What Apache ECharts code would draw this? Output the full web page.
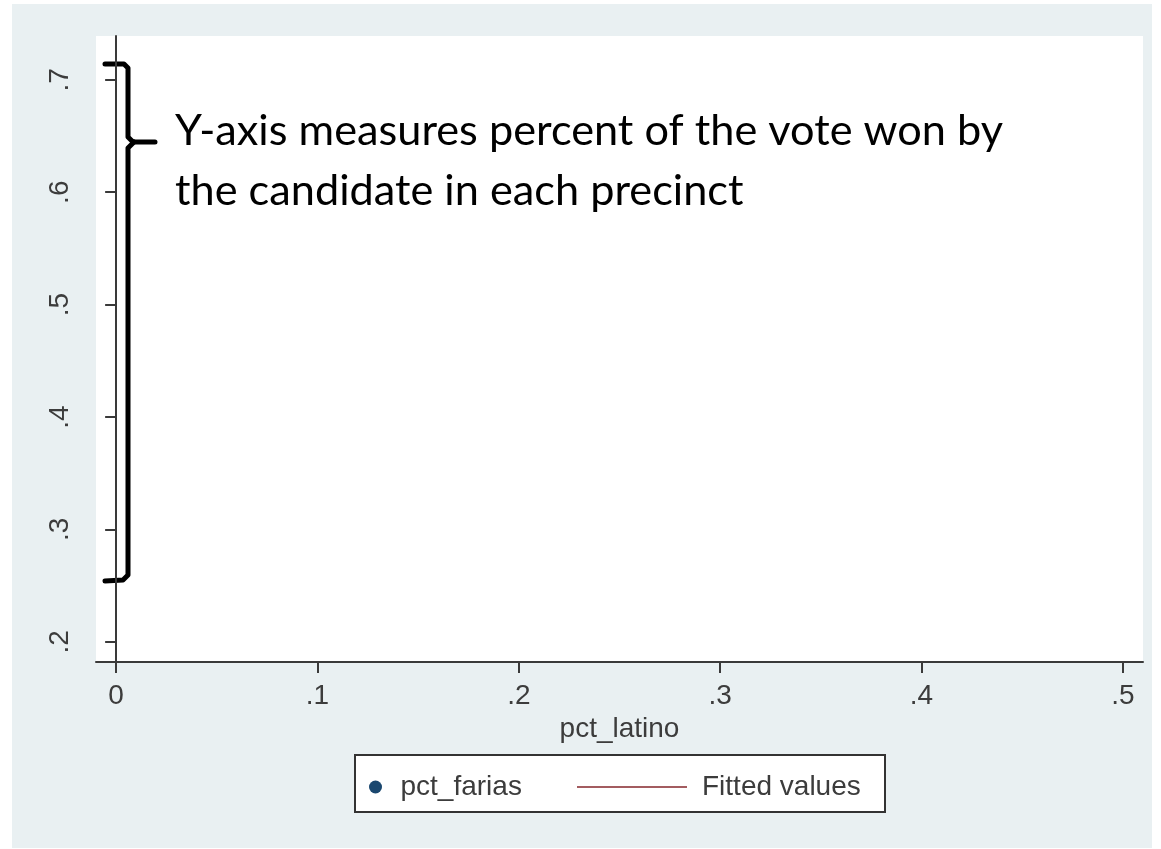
<!DOCTYPE html>
<html>
<head>
<meta charset="utf-8">
<title>pct_farias vs pct_latino</title>
<script src="https://cdn.jsdelivr.net/npm/echarts@6/dist/echarts.min.js"></script>
<style>
  html, body { margin: 0; padding: 0; background: #fff; }
  #main { width: 1161px; height: 849px; }
</style>
</head>
<body>
<div id="main"></div>
<script>
// data: the plot region shows no markers or fitted line
var pctLatino = [];
var pctFarias = [];
var fittedValues = [];

var xTicks = [0, 0.1, 0.2, 0.3, 0.4, 0.5];
var xTickLabels = ["0", ".1", ".2", ".3", ".4", ".5"];
var yTicks = [0.2, 0.3, 0.4, 0.5, 0.6, 0.7];
var yTickLabels = [".2", ".3", ".4", ".5", ".6", ".7"];

var noteLines = [
  "Y-axis measures percent of the vote won by",
  "the candidate in each precinct"
];

var axisColor = "#3a3a3a";
var textColor = "#3c3c3c";
var labelFont = "'Liberation Sans', Arial, sans-serif";
var noteFont = "Lato, 'Open Sans', sans-serif";

function pairs(xs, ys) {
  return xs.map(function (x, i) { return [x, ys[i]]; });
}

function tickText(list, labels) {
  return function (v) {
    var i = list.indexOf(v);
    return i >= 0 ? labels[i] : String(v);
  };
}

// stretch the note so it spans the same width as in the reference
var ctx = document.createElement("canvas").getContext("2d");
ctx.font = "42px " + noteFont;
var noteScale = 828 / ctx.measureText(noteLines[0]).width;

var myChart = echarts.init(document.getElementById("main"));
myChart.setOption({
  backgroundColor: "#ffffff",
  animation: false,
  grid: {
    left: 96,
    right: 18,
    top: 36,
    bottom: 187,
    show: true,
    backgroundColor: "#ffffff",
    borderWidth: 0
  },
  xAxis: {
    type: "value",
    min: -0.01,
    max: 0.51,
    name: "pct_latino",
    nameLocation: "middle",
    nameGap: 46,
    nameTextStyle: { fontSize: 28, color: textColor, fontFamily: labelFont },
    axisLine: { lineStyle: { color: axisColor, width: 2 } },
    axisTick: {
      customValues: xTicks,
      length: 11,
      lineStyle: { color: axisColor, width: 2 }
    },
    axisLabel: {
      customValues: xTicks,
      formatter: tickText(xTicks, xTickLabels),
      fontSize: 28,
      color: textColor,
      fontFamily: labelFont,
      margin: 20
    },
    splitLine: { show: false }
  },
  yAxis: {
    type: "value",
    min: 0.182,
    max: 0.739,
    axisLine: { show: true, lineStyle: { color: axisColor, width: 2 } },
    axisTick: {
      show: true,
      customValues: yTicks,
      length: 11,
      lineStyle: { color: axisColor, width: 2 }
    },
    axisLabel: {
      customValues: yTicks,
      formatter: tickText(yTicks, yTickLabels),
      rotate: 90,
      fontSize: 28,
      color: textColor,
      fontFamily: labelFont,
      margin: 22
    },
    splitLine: { show: false }
  },
  legend: [
    {
      data: ["pct_farias"],
      left: 364,
      top: 768,
      itemWidth: 40,
      itemHeight: 13,
      icon: "circle",
      textStyle: { fontSize: 28, color: textColor, fontFamily: labelFont }
    },
    {
      data: ["Fitted values"],
      left: 572,
      top: 768,
      itemWidth: 110,
      itemHeight: 13,
      icon: "path://M0,6 L110,6 L110,8 L0,8 Z",
      textStyle: {
        fontSize: 28,
        color: textColor,
        fontFamily: labelFont,
        padding: [0, 0, 0, 10]
      }
    }
  ],
  graphic: [
    {
      type: "rect",
      z: -10,
      silent: true,
      shape: { x: 12, y: 4, width: 1140, height: 844 },
      style: { fill: "#e9f0f2" }
    },
    {
      type: "rect",
      silent: true,
      shape: { x: 355, y: 755, width: 530, height: 57 },
      style: { fill: "#ffffff", stroke: "#333333", lineWidth: 2 },
      z: 0
    },
    {
      type: "polyline",
      silent: true,
      shape: { points: [[105, 64], [124, 64], [128, 68], [128, 137], [133, 142], [155, 142]] },
      style: { stroke: "#000", lineWidth: 5, fill: null, lineJoin: "round", lineCap: "round" }
    },
    {
      type: "polyline",
      silent: true,
      shape: { points: [[134, 142], [128, 148], [128, 575], [123, 580], [105, 581]] },
      style: { stroke: "#000", lineWidth: 5, fill: null, lineJoin: "round", lineCap: "round" }
    },
    {
      type: "text",
      silent: true,
      x: 175,
      y: 131,
      scaleX: noteScale,
      style: {
        text: noteLines[0],
        font: "42px " + noteFont,
        fill: "#000",
        align: "left",
        verticalAlign: "middle"
      }
    },
    {
      type: "text",
      silent: true,
      x: 175,
      y: 191,
      scaleX: noteScale,
      style: {
        text: noteLines[1],
        font: "42px " + noteFont,
        fill: "#000",
        align: "left",
        verticalAlign: "middle"
      }
    }
  ],
  series: [
    {
      name: "pct_farias",
      type: "scatter",
      symbolSize: 12,
      itemStyle: { color: "#1a476f", opacity: 1 },
      data: pairs(pctLatino, pctFarias)
    },
    {
      name: "Fitted values",
      type: "line",
      symbol: "none",
      lineStyle: { color: "#a35c60", width: 2 },
      itemStyle: { color: "#a35c60" },
      data: pairs(pctLatino, fittedValues)
    }
  ]
});
</script>
</body>
</html>
